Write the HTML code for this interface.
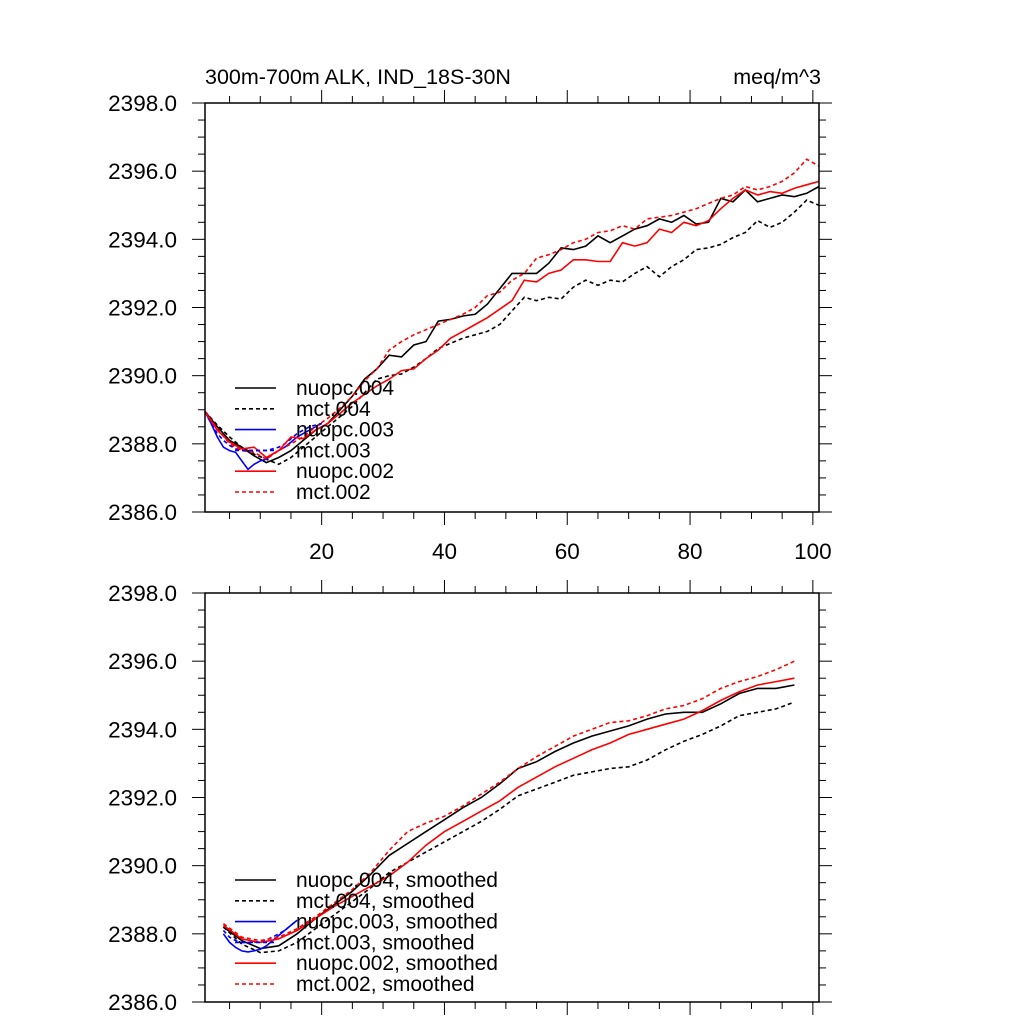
<!DOCTYPE html>
<html><head><meta charset="utf-8">
<style>
html,body{margin:0;padding:0;background:#fff;}
svg{display:block;font-family:"Liberation Sans",sans-serif;}
</style></head>
<body>
<svg id="chart" width="1024" height="1024" viewBox="0 0 1024 1024">
<text x="205" y="84" font-size="21.5">300m-700m ALK, IND_18S-30N</text>
<text x="821" y="84" font-size="21.5" text-anchor="end">meq/m^3</text>
</svg>
<script>
// ---- data ----
const yTicks = [2386, 2388, 2390, 2392, 2394, 2396, 2398];
const yTickLabels = ["2386.0","2388.0","2390.0","2392.0","2394.0","2396.0","2398.0"];
const xTicks = [20, 40, 60, 80, 100];
const xTickLabels = ["20","40","60","80","100"];

const xAnnual = [1,3,5,7,9,11,13,15,17,19,21,23,25,27,29,31,33,35,37,39,41,43,45,47,49,51,53,55,57,59,61,63,65,67,69,71,73,75,77,79,81,83,85,87,89,91,93,95,97,99,101];
const nuopc004 = [2388.95,2388.5,2388.1,2387.9,2387.65,2387.45,2387.6,2387.8,2388.1,2388.4,2388.6,2389.0,2389.4,2389.9,2390.2,2390.6,2390.55,2390.9,2391.0,2391.6,2391.65,2391.75,2391.8,2392.1,2392.55,2393.0,2393.0,2393.0,2393.3,2393.75,2393.7,2393.8,2394.1,2393.9,2394.1,2394.3,2394.4,2394.6,2394.5,2394.7,2394.45,2394.5,2395.2,2395.1,2395.45,2395.1,2395.2,2395.3,2395.25,2395.35,2395.55];
const mct004 = [2388.95,2388.55,2388.2,2387.9,2387.7,2387.55,2387.4,2387.6,2387.9,2388.2,2388.5,2388.8,2389.1,2389.5,2389.9,2390.0,2390.05,2390.25,2390.5,2390.8,2390.95,2391.1,2391.2,2391.3,2391.5,2391.9,2392.3,2392.2,2392.3,2392.25,2392.6,2392.8,2392.65,2392.8,2392.75,2393.0,2393.2,2392.9,2393.2,2393.4,2393.7,2393.75,2393.85,2394.05,2394.2,2394.55,2394.35,2394.5,2394.8,2395.15,2395.0];
const nuopc002 = [2388.95,2388.4,2388.05,2387.85,2387.9,2387.6,2387.8,2388.2,2388.15,2388.4,2388.6,2388.9,2389.2,2389.45,2389.7,2389.9,2390.15,2390.2,2390.5,2390.75,2391.1,2391.3,2391.5,2391.7,2391.95,2392.2,2392.8,2392.75,2393.0,2393.1,2393.4,2393.4,2393.35,2393.35,2393.9,2393.8,2393.9,2394.3,2394.2,2394.5,2394.4,2394.55,2394.9,2395.2,2395.45,2395.3,2395.4,2395.35,2395.5,2395.6,2395.7];
const mct002 = [2388.95,2388.45,2388.0,2387.8,2387.75,2387.55,2387.8,2388.0,2388.2,2388.5,2388.75,2389.05,2389.4,2389.85,2390.2,2390.75,2391.0,2391.2,2391.35,2391.5,2391.65,2391.8,2392.0,2392.35,2392.45,2392.8,2393.0,2393.45,2393.55,2393.7,2393.9,2394.0,2394.2,2394.25,2394.4,2394.3,2394.6,2394.65,2394.7,2394.8,2394.9,2395.05,2395.2,2395.3,2395.55,2395.45,2395.55,2395.7,2395.95,2396.35,2396.15];
const xBlue = [1,2,3,4,5,6,7,8,9,10,11,12,13,14,15,16,17,18,19,20];
const nuopc003 = [2388.95,2388.6,2388.2,2387.9,2387.8,2387.75,2387.5,2387.25,2387.4,2387.5,2387.55,2387.7,2387.8,2387.9,2388.05,2388.2,2388.3,2388.4,2388.5,2388.6];
const mct003 = [2388.95,2388.6,2388.3,2388.1,2387.95,2387.85,2387.8,2387.8,2387.8,2387.8,2387.8,2387.85,2387.9,2388.0,2388.15,2388.3,2388.4,2388.5,2388.55,2388.6];

const xSmooth = [4,7,10,13,16,19,22,25,28,31,34,37,40,43,46,49,52,55,58,61,64,67,70,73,76,79,82,85,88,91,94,97];
const nuopc004s = [2388.2,2387.8,2387.57,2387.65,2388.0,2388.45,2388.85,2389.25,2389.75,2390.3,2390.65,2391.0,2391.35,2391.7,2392.0,2392.4,2392.85,2393.05,2393.35,2393.6,2393.8,2393.95,2394.1,2394.3,2394.45,2394.5,2394.5,2394.75,2395.05,2395.2,2395.2,2395.3];
const mct004s = [2388.2,2387.7,2387.45,2387.5,2387.75,2388.15,2388.55,2388.95,2389.35,2389.8,2390.1,2390.4,2390.7,2391.0,2391.3,2391.65,2392.05,2392.25,2392.45,2392.65,2392.75,2392.85,2392.9,2393.1,2393.4,2393.65,2393.85,2394.1,2394.4,2394.5,2394.6,2394.8];
const nuopc002s = [2388.25,2387.85,2387.75,2387.85,2388.1,2388.45,2388.8,2389.1,2389.4,2389.7,2390.1,2390.6,2391.0,2391.3,2391.6,2391.9,2392.3,2392.6,2392.9,2393.15,2393.4,2393.6,2393.85,2394.0,2394.15,2394.3,2394.55,2394.85,2395.1,2395.3,2395.4,2395.5];
const mct002s = [2388.3,2387.9,2387.8,2387.9,2388.15,2388.5,2388.9,2389.3,2389.8,2390.45,2391.0,2391.25,2391.45,2391.75,2392.1,2392.45,2392.85,2393.2,2393.5,2393.8,2394.0,2394.2,2394.25,2394.4,2394.6,2394.7,2394.9,2395.2,2395.4,2395.55,2395.75,2396.0];
const xBlueSmooth = [4,5,6,7,8,9,10,11,12,13,14,15,16];
const nuopc003s = [2388.0,2387.75,2387.6,2387.5,2387.47,2387.5,2387.55,2387.65,2387.8,2387.95,2388.1,2388.25,2388.4];
const mct003s = [2388.1,2387.9,2387.8,2387.75,2387.75,2387.75,2387.78,2387.82,2387.9,2388.0,2388.1,2388.25,2388.4];

const legendTop = ["nuopc.004","mct.004","nuopc.003","mct.003","nuopc.002","mct.002"];
const legendBottom = ["nuopc.004, smoothed","mct.004, smoothed","nuopc.003, smoothed","mct.003, smoothed","nuopc.002, smoothed","mct.002, smoothed"];

// ---- drawing ----
const NS = "http://www.w3.org/2000/svg";
const svg = document.getElementById("chart");
const X0 = 205, X1 = 819, XMIN = 1, XMAX = 101, YMIN = 2386, YMAX = 2398;
function mk(tag, attrs, parent) {
  const e = document.createElementNS(NS, tag);
  for (const k in attrs) e.setAttribute(k, attrs[k]);
  (parent || svg).appendChild(e);
  return e;
}
function xs(v) { return X0 + (v - XMIN) / (XMAX - XMIN) * (X1 - X0); }

function panel(top, bottom, name, showX, series, legend, legY) {
  const g = mk("g", {});
  
  
  const ys = v => bottom - (v - YMIN) / (YMAX - YMIN) * (bottom - top);
  series.forEach(s => {
    const d = s.x.map((xv, i) => (i ? "L" : "M") + xs(xv).toFixed(1) + "," + ys(s.y[i]).toFixed(1)).join("");
    const p = mk("path", {d: d, fill: "none", stroke: s.c, "stroke-width": 1.6, "stroke-dasharray": s.dash ? "4 3" : "none"}, g);
    
    
  });
  const fr = mk("rect", {x: X0, y: top, width: X1 - X0, height: bottom - top, fill: "none", stroke: "#000", "stroke-width": 1.5}, g);
  
  
  for (let v = YMIN; v <= YMAX + 1e-9; v += 0.5) {
    const major = Math.abs(v - Math.round(v)) < 1e-6 && Math.round(v) % 2 === 0;
    const len = major ? 13 : 7;
    const y = ys(v);
    mk("line", {x1: X0, x2: X0 - len, y1: y, y2: y, stroke: "#000", "stroke-width": 1}, g);
    mk("line", {x1: X1, x2: X1 + len, y1: y, y2: y, stroke: "#000", "stroke-width": 1}, g);
  }
  yTicks.forEach((v, i) => {
    const t = mk("text", {x: 177, y: ys(v) + 8, "font-size": 22.5, "text-anchor": "end"}, g);
    t.textContent = yTickLabels[i];
    
    
  });
  for (let v = 5; v <= 100; v += 5) {
    const major = v % 20 === 0;
    const len = major ? 13 : 7;
    const x = xs(v);
    mk("line", {x1: x, x2: x, y1: bottom, y2: bottom + len, stroke: "#000", "stroke-width": 1}, g);
    mk("line", {x1: x, x2: x, y1: top, y2: top - len, stroke: "#000", "stroke-width": 1}, g);
  }
  if (showX) xTicks.forEach((v, i) => {
    const t = mk("text", {x: xs(v), y: bottom + 47, "font-size": 22.5, "text-anchor": "middle"}, g);
    t.textContent = xTickLabels[i];
    
    
  });
  const lg = mk("g", {}, g);
  
  
  legend.forEach((lab, i) => {
    const s = series[i];
    const y = legY + i * 20.8;
    mk("line", {x1: 235, x2: 276, y1: y, y2: y, stroke: s.c, "stroke-width": 1.6, "stroke-dasharray": s.dash ? "4 3" : "none"}, lg);
    const t = mk("text", {x: 296, y: y + 7, "font-size": 21}, lg);
    t.textContent = lab;
    
    
  });
}

panel(103, 512, "raw-panel", true, [
  {n: "nuopc-004", x: xAnnual, y: nuopc004, c: "#000", dash: false},
  {n: "mct-004", x: xAnnual, y: mct004, c: "#000", dash: true},
  {n: "nuopc-003", x: xBlue, y: nuopc003, c: "#0000ff", dash: false},
  {n: "mct-003", x: xBlue, y: mct003, c: "#0000ff", dash: true},
  {n: "nuopc-002", x: xAnnual, y: nuopc002, c: "#ff0000", dash: false},
  {n: "mct-002", x: xAnnual, y: mct002, c: "#ff0000", dash: true}
], legendTop, 388);

panel(593, 1002, "smoothed-panel", false, [
  {n: "nuopc-004-smoothed", x: xSmooth, y: nuopc004s, c: "#000", dash: false},
  {n: "mct-004-smoothed", x: xSmooth, y: mct004s, c: "#000", dash: true},
  {n: "nuopc-003-smoothed", x: xBlueSmooth, y: nuopc003s, c: "#0000ff", dash: false},
  {n: "mct-003-smoothed", x: xBlueSmooth, y: mct003s, c: "#0000ff", dash: true},
  {n: "nuopc-002-smoothed", x: xSmooth, y: nuopc002s, c: "#ff0000", dash: false},
  {n: "mct-002-smoothed", x: xSmooth, y: mct002s, c: "#ff0000", dash: true}
], legendBottom, 880);
</script>
</body></html>
